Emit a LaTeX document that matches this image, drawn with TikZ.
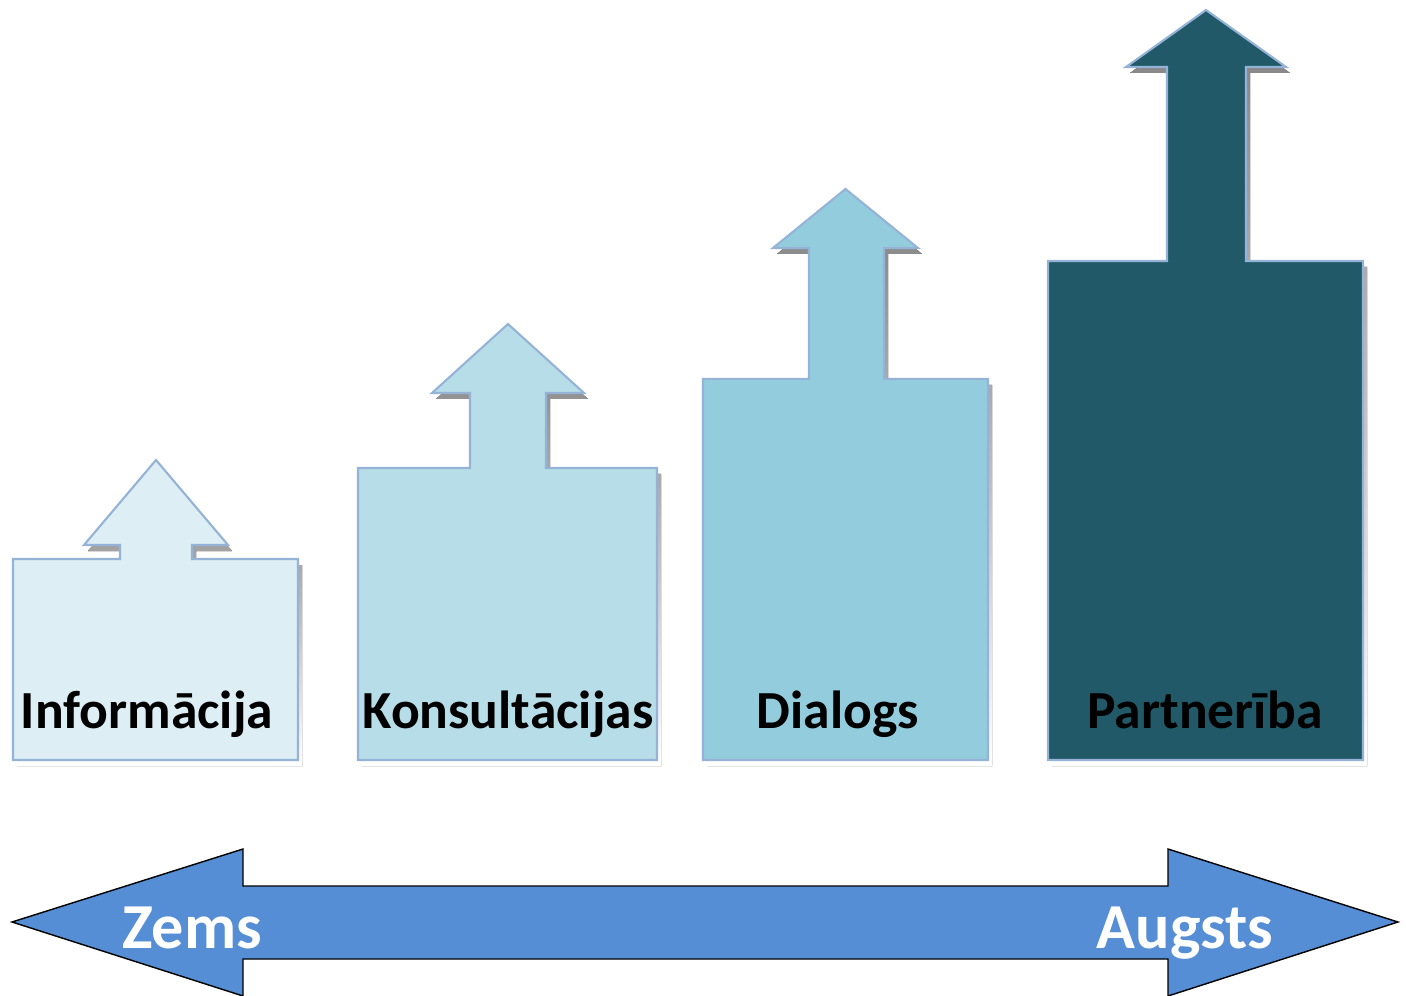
\documentclass[tikz,border=0pt]{standalone}
\usepackage{fontspec}
\setmainfont{Carlito}

\definecolor{lvlone}{HTML}{DDEEF4}
\definecolor{lvltwo}{HTML}{B7DDE8}
\definecolor{lvlthree}{HTML}{93CDDD}
\definecolor{lvlfour}{HTML}{215968}
\definecolor{edgeblue}{HTML}{95B3D7}
\definecolor{shade}{HTML}{8A9AB2}
\definecolor{scaleblue}{HTML}{558ED5}

\tikzset{
  lvlshape/.style={draw=edgeblue, line width=1.2pt, line join=miter},
  lvllabel/.style={anchor=base, font=\bfseries\fontsize{30.5}{36}\selectfont},
  scalelabel/.style={anchor=base, text=white, font=\bfseries\fontsize{36.5}{42}\selectfont}
}

\begin{document}
\begin{tikzpicture}[x=0.02cm, y=-0.02cm]
  \useasboundingbox (0,0) rectangle (1406,996);

  % steps: colour / left / right / top / shaft left / shaft right / head base / head left / head right / tip
  \foreach \col/\L/\R/\T/\sL/\sR/\hb/\hL/\hR/\tip in {
      lvlone/13/298/559/120/192/545/84/228/460,
      lvltwo/358/657/468/470/546/393/432/584/324,
      lvlthree/703/988/379/809/884/248/773/918/189,
      lvlfour/1048/1363/261/1167/1246/67/1126/1286/10} {
    \fill[shade, shift={(4,6)}] (\L,760) -- (\L,\T) -- (\sL,\T) -- (\sL,\hb) -- (\hL,\hb)
      -- ({(\hL+\hR)/2},\tip) -- (\hR,\hb) -- (\sR,\hb) -- (\sR,\T) -- (\R,\T) -- (\R,760) -- cycle;
    \draw[lvlshape, fill=\col] (\L,760) -- (\L,\T) -- (\sL,\T) -- (\sL,\hb) -- (\hL,\hb)
      -- ({(\hL+\hR)/2},\tip) -- (\hR,\hb) -- (\sR,\hb) -- (\sR,\T) -- (\R,\T) -- (\R,760) -- cycle;
  }

  \node[lvllabel] (info) at (147,728) {Informācija};
  \node[lvllabel] (kons) at (508,728) {Konsultācijas};
  \node[lvllabel] (dial) at (838,728) {Dialogs};
  \node[lvllabel] (part) at (1205,728) {Partnerība};

  % low -- high scale
  \draw[fill=scaleblue, line width=0.8pt] (12,922) -- (243,849) -- (243,886) -- (1168,886)
    -- (1168,849) -- (1398,922) -- (1168,996) -- (1168,959) -- (243,959) -- (243,996) -- cycle;

  \node[scalelabel] (low) at (192,948) {Zems};
  \node[scalelabel] (high) at (1185,948) {Augsts};

\end{tikzpicture}
\end{document}
